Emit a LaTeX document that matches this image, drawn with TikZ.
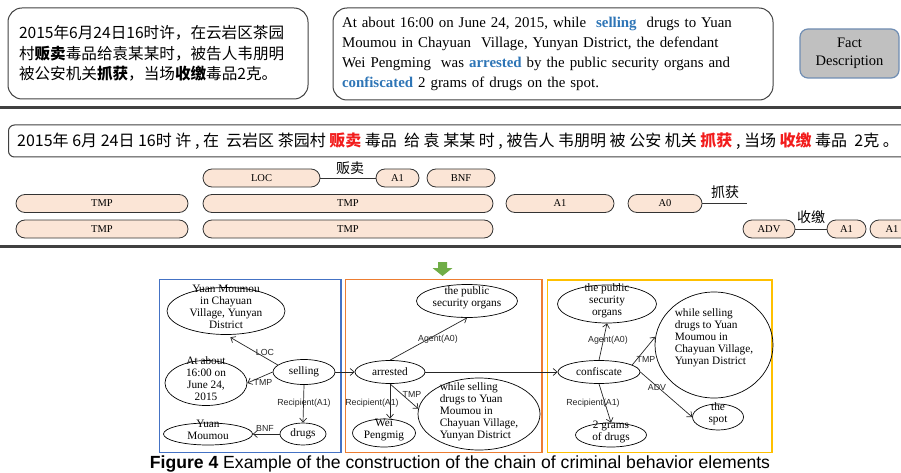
\documentclass[tikz,border=0pt]{standalone}
\usepackage{fontspec}
\setmainfont{Liberation Serif}
\newfontfamily\cjk{Noto Sans CJK SC}
\newfontfamily\arialf{Liberation Sans}
\usetikzlibrary{shapes.geometric,arrows.meta}
\definecolor{peach}{HTML}{FBE5D6}
\definecolor{kwblue}{HTML}{2E75B6}
\definecolor{kwred}{HTML}{F21C1C}
\definecolor{pblue}{HTML}{4472C4}
\definecolor{porange}{HTML}{ED7D31}
\definecolor{pyellow}{HTML}{FFC000}
\definecolor{pgreen}{HTML}{70AD47}
\definecolor{factfill}{HTML}{C0C0C0}
\definecolor{factdraw}{HTML}{6F8DB3}
\definecolor{rulegray}{HTML}{404040}
\newcommand\smc[1]{\smash{\begin{tabular}{@{}c@{}}#1\end{tabular}}}
\newcommand\sml[1]{\smash{\begin{tabular}{@{}l@{}}#1\end{tabular}}}
\begin{document}
\begin{tikzpicture}[x=1pt,y=-1pt,
  textbox/.style={draw=black!75, line width=1pt, rounded corners=14pt, inner sep=0pt},
  pill/.style={draw=black!80, fill=peach, line width=0.8pt, rounded corners=9pt, minimum height=18pt, inner sep=0pt, font=\fontsize{10.5}{12}\selectfont},
  ell/.style={ellipse, draw=black, line width=0.7pt, inner sep=0pt, font=\fontsize{11.3}{12}\selectfont},
  rel/.style={draw=black!85, line width=0.7pt, -{Straight Barb[length=4pt,width=7pt]}},
  plain/.style={draw=black!80, line width=0.8pt},
  rlab/.style={font=\arialf\fontsize{8.8}{10}\selectfont, inner sep=0.5pt, text=black!85},
  panel/.style={line width=1.5pt},
  hrule/.style={draw=rulegray, line width=3pt},
  verbl/.style={font=\cjk\fontsize{14}{16}\selectfont, inner sep=0pt},
]
\useasboundingbox (0,0) rectangle (901,473);

% top boxes
\node[textbox, minimum width=300, minimum height=91, text width=278, align=left,
      font=\cjk\fontsize{15.6}{20.5}\selectfont] (zh) at (158,53.5)
  {2015年6月24日16时许，在云岩区茶园\\村{\bfseries 贩卖}毒品给袁某某时，被告人韦朋明\\被公安机关{\bfseries 抓获}，当场{\bfseries 收缴}毒品2克。};
\node[textbox, minimum width=440, minimum height=92, text width=422, align=left,
      font=\fontsize{14.9}{20}\selectfont] (en) at (553,54)
  {At about 16:00 on June 24, 2015, while \ \textcolor{kwblue}{\bfseries selling} \ drugs to Yuan\\
   Moumou in Chayuan \ Village, Yunyan District, the defendant\\
   Wei Pengming \ was \textcolor{kwblue}{\bfseries arrested} by the public security organs and\\
   \textcolor{kwblue}{\bfseries confiscated} 2 grams of drugs on the spot.};
\node[draw=factdraw, fill=factfill, line width=1.2pt, rounded corners=8pt, minimum width=99, minimum height=49,
      align=center, inner sep=0pt, font=\fontsize{14.5}{18}\selectfont] (fact) at (849.5,53.5) {Fact\\Description};

\draw[hrule] (0,108) -- (901,108);

% segmented sentence
\node[draw=black!75, line width=1pt, rounded corners=6pt, minimum width=912, minimum height=32, anchor=west, inner sep=0pt] (sent) at (8,141) {};
\node[anchor=west, inner sep=0pt, font=\cjk\fontsize{16}{18}\selectfont] (senttext) at (17,141)
  {2015年 6月 24日 16时 许 , 在 \ 云岩区 茶园村 \textcolor{kwred}{\bfseries 贩卖} 毒品 \ 给 袁 某某 时 , 被告人 韦朋明 被 公安 机关 \textcolor{kwred}{\bfseries 抓获} , 当场 \textcolor{kwred}{\bfseries 收缴} 毒品 \ 2克 。};

% SRL pills
\node[pill, minimum width=117] (loc) at (261.5,178) {LOC};
\node[pill, minimum width=43] (a1r1) at (397.5,178) {A1};
\node[pill, minimum width=68] (bnf) at (461,178) {BNF};
\node[pill, minimum width=172] (tmp1) at (102,203.5) {TMP};
\node[pill, minimum width=290] (tmp2) at (348,203.5) {TMP};
\node[pill, minimum width=108] (a1r2) at (560,203.5) {A1};
\node[pill, minimum width=74] (a0) at (665,203.5) {A0};
\node[pill, minimum width=172] (tmp3) at (102,229) {TMP};
\node[pill, minimum width=290] (tmp4) at (348,229) {TMP};
\node[pill, minimum width=52] (adv) at (769,229) {ADV};
\node[pill, minimum width=39] (a1c) at (846.5,229) {A1};
\node[pill, minimum width=44] (a1d) at (892,229) {A1};
\coordinate (zhuoend) at (747,203.5);
\draw[plain] (loc.east) -- (a1r1.west);
\draw[plain] (a0.east) -- (zhuoend);
\draw[plain] (adv.east) -- (a1c.west);
\node[verbl] (v1) at (350,168) {贩卖};
\node[verbl] (v2) at (725,192) {抓获};
\node[verbl] (v3) at (811,217) {收缴};

\draw[hrule] (0,246.5) -- (901,246.5);

% green arrow
\fill[pgreen] (438,262) -- (447,262) -- (447,268) -- (452.5,268) -- (442.5,276) -- (432.5,268) -- (438,268) -- cycle;

% panels
\draw[panel, pblue] (159.5,279.5) rectangle (341,452.5);
\draw[panel, porange] (345.5,279.5) rectangle (542,452.5);
\draw[panel, pyellow] (547.5,280) rectangle (772,452.5);

% blue panel
\node[ell, minimum width=118, minimum height=47] (bloc) at (226,311) {\smc{Yuan Moumou\\in Chayuan\\Village, Yunyan\\District}};
\node[ell, minimum width=82, minimum height=45] (btmp) at (206,383) {\smc{At about\\16:00 on\\June 24,\\2015}};
\node[ell, minimum width=62, minimum height=25] (bsell) at (304,372) {selling};
\node[ell, minimum width=46, minimum height=22] (bdrugs) at (303,434) {drugs};
\node[ell, minimum width=89, minimum height=22] (bym) at (208,434) {\smc{Yuan\\Moumou}};
\draw[rel, shorten >=5pt] (bsell.165) -- (bloc.south);
\draw[rel] (bsell.west) -- (btmp.east);
\draw[rel] (bsell.south) -- (bdrugs.north);
\draw[rel] (bdrugs.west) -- (bym.east);
\node[rlab] (l1) at (265,352) {LOC};
\node[rlab] (l2) at (263,382) {TMP};
\node[rlab] (l3) at (304,403) {Recipient(A1)};
\node[rlab] (l4) at (265,428) {BNF};

% orange panel
\node[ell, minimum width=101, minimum height=33] (opso) at (467,301) {\smc{the public\\security organs}};
\node[ell, minimum width=70, minimum height=23] (oarr) at (390,372) {arrested};
\node[ell, minimum width=122, minimum height=72] (ows) at (479,414) {\raisebox{-2pt}{\sml{while selling\\drugs to Yuan\\Moumou in\\Chayuan Village,\\Yunyan District}}};
\node[ell, minimum width=63, minimum height=28] (owei) at (384,433) {\smc{Wei\\Pengmig}};
\draw[rel] (bsell.east) -- (oarr.west);
\draw[rel] (oarr.north) -- (opso.south);
\draw[rel] (oarr.south) -- (oarr.south |- owei.north);
\draw[rel] (oarr.south) -- (ows.175);
\node[rlab] (l5) at (438,339) {Agent(A0)};
\node[rlab] (l6) at (412,394) {TMP};
\node[rlab] (l7) at (372,403) {Recipient(A1)};

% yellow panel
\node[ell, minimum width=99, minimum height=38] (ypso) at (607,304) {\smc{the public\\security\\organs}};
\node[ell, minimum width=118, minimum height=106] (yws) at (714,345) {\raisebox{9pt}{\sml{while selling\\drugs to Yuan\\Moumou in\\Chayuan Village,\\Yunyan District}}};
\node[ell, minimum width=82, minimum height=23] (yconf) at (599,372) {confiscate};
\node[ell, minimum width=71, minimum height=24] (ygr) at (611,435) {\smc{2 grams\\of drugs}};
\node[ell, minimum width=51, minimum height=26] (yspot) at (718,417) {\smc{the\\spot}};
\draw[rel] (oarr.east) -- (yconf.west);
\draw[rel] (yconf.north) -- (ypso.south);
\draw[rel] (yconf.12) -- (yws.172);
\draw[rel] (yconf.east) -- (yspot.west);
\draw[rel] (yconf.south) -- (ygr.north);
\node[rlab] (l8) at (608,340) {Agent(A0)};
\node[rlab] (l9) at (646,359) {TMP};
\node[rlab] (l10) at (657,387) {ADV};
\node[rlab] (l11) at (593,403) {Recipient(A1)};

% caption
\node[font=\arialf\fontsize{17.6}{18}\selectfont, inner sep=0pt] (cap) at (460,463.5)
  {\textbf{Figure 4} Example of the construction of the chain of criminal behavior elements};
\end{tikzpicture}
\end{document}
